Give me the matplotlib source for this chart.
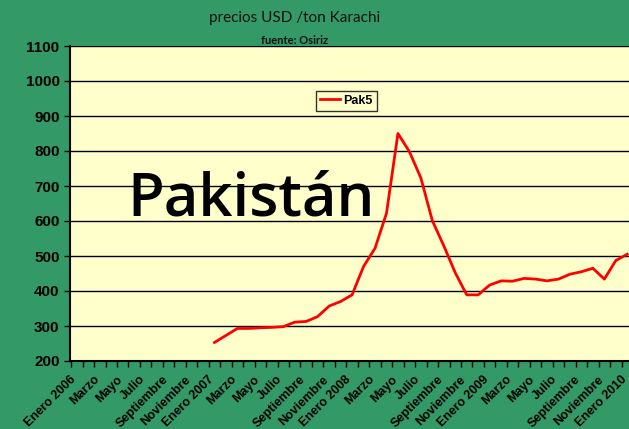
import numpy as np
import matplotlib
matplotlib.use("Agg")
import matplotlib.pyplot as plt

# Meses Enero 2006 .. Enero 2010 (49 categorias), etiquetas cada 2 meses
meses_nombres = ["Enero", "Marzo", "Mayo", "Julio", "Septiembre", "Noviembre"]
anios = [2006, 2007, 2008, 2009, 2010]
etiquetas = []
for a in anios:
    for k, m in enumerate(meses_nombres):
        if a == 2010 and k > 0:
            break
        etiquetas.append(f"{m} {a}" if k == 0 else m)

n_meses = 49
# precios Pak5, USD/ton (sin datos en 2006)
pak5 = [np.nan] * 12 + [
    253, 273, 293, 293, 295, 296, 298, 311, 313, 327, 357, 370,
    389, 470, 522, 622, 850, 798, 723, 601, 529, 452, 389, 389,
    417, 429, 428, 436, 434, 429, 434, 448, 455, 465, 434, 487,
    505,
]

verde = "#339966"
amarillo = "#FFFFCC"

fig = plt.figure(figsize=(6.29, 4.29), dpi=100, facecolor=verde)
ax = fig.add_axes([70 / 629, 68 / 429, 563 / 629, 315 / 429])
ax.set_facecolor(amarillo)

x = np.arange(n_meses)
ax.plot(x, pak5, color="red", linewidth=2, label="Pak5", zorder=3)

ax.set_xlim(-0.5, n_meses - 0.5)
ax.set_ylim(200, 1100)
ax.set_yticks(range(200, 1101, 100))
ax.grid(True, axis="y", color="black", linewidth=1)
ax.set_axisbelow(True)

# etiquetas giradas: el ancla queda un poco a la izquierda del centro de la categoria
ax.set_xticks(x[::2] - 0.6)
ax.set_xticklabels(etiquetas, rotation=45, ha="right", rotation_mode="anchor",
                   fontsize=9, fontweight="bold", family="Liberation Sans")
ax.set_xticks(np.arange(-0.5, n_meses, 1), minor=True)
ax.tick_params(axis="x", which="major", length=0, pad=9)
ax.tick_params(axis="x", which="minor", length=4, width=1, direction="out")
ax.tick_params(axis="y", length=4, width=1, direction="out")
for lab in ax.get_yticklabels():
    lab.set_fontsize(11)
    lab.set_fontweight("bold")
    lab.set_family("Liberation Sans")

for s in ["top", "right"]:
    ax.spines[s].set_visible(False)
ax.spines["left"].set_linewidth(1.5)
ax.spines["bottom"].set_linewidth(1.5)

leg = ax.legend(loc="upper left", bbox_to_anchor=(246 / 563, 1 - 45 / 315),
                borderaxespad=0, frameon=True, fancybox=False, facecolor=amarillo,
                edgecolor="black",
                prop={"family": "Liberation Sans", "weight": "bold", "size": 9},
                handlelength=1.6, borderpad=0.3, handletextpad=0.3)
leg.get_frame().set_linewidth(1)

ax.text(57 / 563, 1 - (215 - 46) / 315, "Pakistán", transform=ax.transAxes,
        fontsize=43, family="Open Sans", fontweight="semibold", color="black",
        va="baseline", zorder=4)

fig.text(295 / 629, 1 - 18 / 429, "precios USD /ton Karachi", ha="center", va="center",
         fontsize=11, family="Lato", color="#111111")
fig.text(295 / 629, 1 - 40 / 429, "fuente: Osiriz", ha="center", va="center",
         fontsize=8, family="Lato", fontweight="bold", color="#111111")

fig.savefig("out.png", dpi=100, facecolor=verde)
